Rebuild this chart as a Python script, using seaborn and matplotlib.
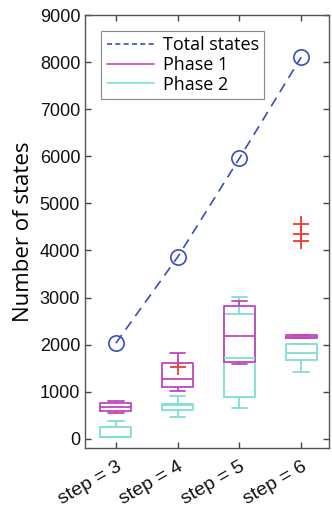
import matplotlib
matplotlib.use('Agg')
import matplotlib.pyplot as plt
from matplotlib.lines import Line2D
import seaborn as sns
import pandas as pd

steps = ['step = 3', 'step = 4', 'step = 5', 'step = 6']
total_states = [2030, 3860, 5960, 8110]

# sample values per step (min, quartiles, max, outliers)
phase1_s3 = [553, 596, 665, 766, 808]
phase1_s4 = [1007, 1092, 1262, 1610, 1830]
phase1_s5 = [1596, 1624, 2191, 2815, 2930]
phase1_s6 = [2130, 2136, 2140, 2142, 2145, 2148, 2150, 2165, 2185, 2206, 4200, 4350, 4570]

phase2_s3 = [28, 28, 45, 255, 376]
phase2_s4 = [468, 540, 610, 680, 723, 735, 745, 908, 1532]
phase2_s5 = [653, 894, 1716, 2652, 3015]
phase2_s6 = [1411, 1666, 1823, 2014, 2014]

c_total = '#3a4cc0'
c_p1 = '#c046c0'
c_p2 = '#7fded6'
c_out = '#ee3b30'


def long_df(groups):
    rows = []
    for lab, vals in zip(steps, groups):
        for v in vals:
            rows.append({'step': lab, 'value': v})
    return pd.DataFrame(rows)


df1 = long_df([phase1_s3, phase1_s4, phase1_s5, phase1_s6])
df2 = long_df([phase2_s3, phase2_s4, phase2_s5, phase2_s6])

sns.set_style('ticks')
plt.rcParams['font.family'] = ['Liberation Sans', 'DejaVu Sans']

fig = plt.figure(figsize=(3.32, 5.08), dpi=100)
ax = fig.add_axes([0.256, 0.118, 0.735, 0.852])

flier = dict(marker='+', markeredgecolor=c_out, markerfacecolor=c_out,
             markersize=11, markeredgewidth=1.3, linestyle='none')
for df, c in [(df2, c_p2), (df1, c_p1)]:
    sns.boxplot(data=df, x='step', y='value', order=steps, fill=False, color=c,
                linecolor=c, width=0.5, linewidth=1.3, whis=1.5,
                flierprops=flier, ax=ax)

sns.pointplot(x=steps, y=total_states, order=steps, color=c_total,
              linestyles='--', markers='o', markersize=11, linewidth=1.2,
              markerfacecolor='none', markeredgewidth=1.2, ax=ax)
for ln in ax.lines:
    if ln.get_marker() == 'o':
        ln.set_linestyle((0, (6, 4)))

ax.set_xlim(-0.5, 3.45)
ax.set_ylim(-200, 9000)
ax.set_yticks(range(0, 9001, 1000))
ax.set_xlabel('')
ax.set_ylabel('Number of states', fontsize=16, family=['Open Sans', 'DejaVu Sans'],
              color='black', labelpad=4)
ax.tick_params(direction='in', top=True, right=True, labelsize=13, color='#444444',
               length=4, width=1, labelcolor='#111111')
ax.tick_params(axis='x', labelsize=14, pad=7)
plt.setp(ax.get_xticklabels(), rotation=30, ha='right', rotation_mode='anchor')
for s in ax.spines.values():
    s.set_visible(True)
    s.set_color('#555555')
    s.set_linewidth(1)

handles = [Line2D([], [], color=c_total, linestyle=(0, (3, 2)), lw=1.2),
           Line2D([], [], color=c_p1, lw=1.2),
           Line2D([], [], color=c_p2, lw=1.2)]
leg = ax.legend(handles, ['Total states', 'Phase 1', 'Phase 2'], loc='upper left',
                fancybox=False, framealpha=1, edgecolor='#888888', handlelength=2.6,
                borderpad=0.3, labelspacing=0.1, handletextpad=0.5,
                prop={'family': ['Open Sans', 'DejaVu Sans'], 'size': 13},
                bbox_to_anchor=(0.03, 0.985))
leg.get_frame().set_linewidth(0.8)
for t in leg.get_texts():
    t.set_color('black')

fig.savefig('out.png', dpi=100)
